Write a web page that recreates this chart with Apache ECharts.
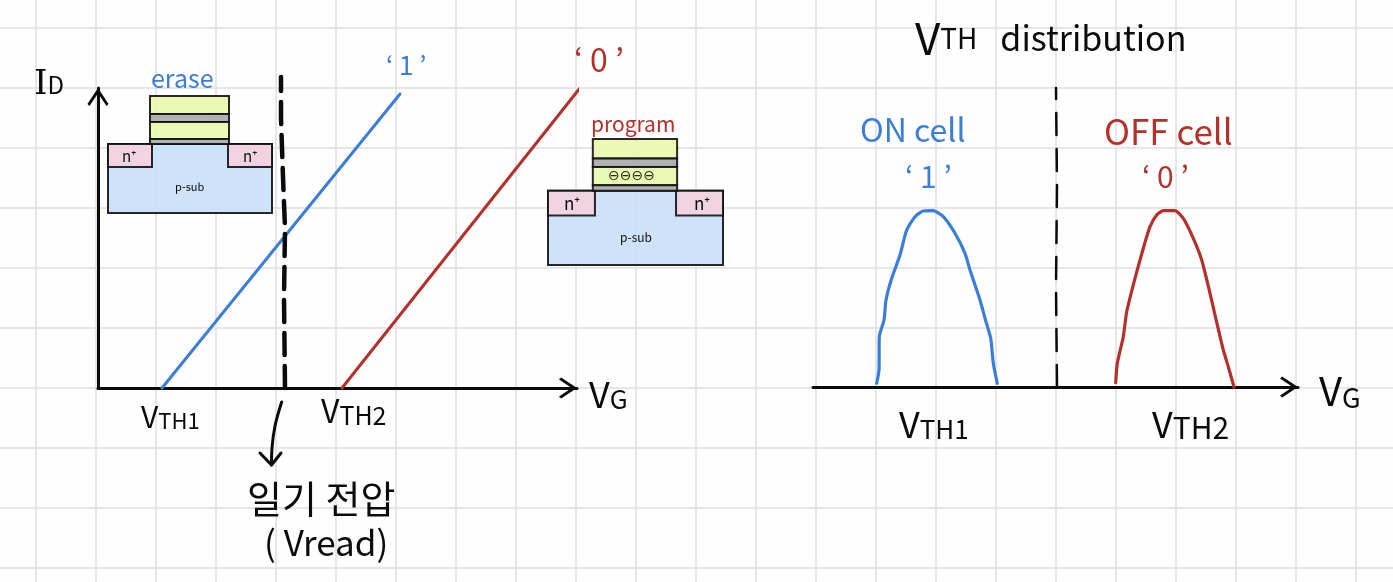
<!DOCTYPE html>
<html><head><meta charset="utf-8">
<style>html,body{margin:0;padding:0;background:#fff}#c{width:1393px;height:582px}</style>
<script src="https://cdn.jsdelivr.net/npm/echarts@6/dist/echarts.min.js"></script>
</head><body><div id="c"></div>
<script>
// ---- data (V_G, I_D) ----
const line1 = [[64,0],[302,294]];
const line0 = [[244,0],[482,300]];
const vreadLine = [[187,0],[186,90],[187,160],[185,211],[183,270],[183,311]];
const vreadShaft = [[183.7,-14],[177,-38],[174,-60],[173.5,-77]];
const vreadHead = [[162,-65],[173.5,-77],[183,-65]];
// ---- distribution curves (V_G, cell count) ----
const dist1 = [[63.7,3.7],[66,17],[66.3,50.3],[71,67],[73,87],[78.7,108.7],[87,132],[93.7,157],[102,170.3],[110.3,176],[120.3,176.3],[130.3,170.3],[142,153.7],[152,133.7],[157,117],[167,87],[172,68.7],[177.7,48.7],[180.3,23.7],[184.3,3.7]];
const dist0 = [[302.7,4.3],[304.3,23.7],[310.3,50.3],[313.7,75.3],[322,108.7],[330.3,138.7],[337,160.3],[343.7,172],[350.3,176.3],[362,176.3],[370.3,168.7],[380.3,148.7],[388.7,127],[397,93.7],[402,72],[410.3,37],[415.3,20.3],[421,0]];
const distSplit = [[244,0],[243,100],[244,200],[243,299]];
// ---- transistor cross-section layers: [x0,y0,x1,y1,kind] ----
const deviceLayers = [
  [0,48,164,117,'sub'],[0,48,44,71,'n'],[120,48,164,71,'n'],
  [42,0,121,18,'poly'],[42,18,121,26,'oxide'],[42,26,121,43,'poly'],[42,43,121,48,'oxide']
];
const axisMaxLeft = [479,300], axisMaxRight = [485,187];
const BLUE='#3B7DD8', RED='#B3302B', INK='#0b0b0b';
const layerColors = {sub:'#C9E0FA',n:'#F6D0DE',poly:'#E9F8AC',oxide:'#A9A9A9'};
const HAND='"Noto Sans CJK KR","Noto Sans",sans-serif';

function layerSeries(idx){
  return {type:'custom',xAxisIndex:idx,yAxisIndex:idx,coordinateSystem:'cartesian2d',z:3,silent:true,
    encode:{x:[0,2],y:[1,3]},data:deviceLayers,
    renderItem:function(p,api){
      const a=api.coord([api.value(0),api.value(1)]),b=api.coord([api.value(2),api.value(3)]);
      return {type:'rect',shape:{x:a[0],y:a[1],width:b[0]-a[0],height:b[1]-a[1]},
        style:{fill:layerColors[deviceLayers[p.dataIndex][4]],stroke:'#111',lineWidth:2,opacity:0.9}};
    }};
}
function curve(idx,data,color,w,extra){
  return Object.assign({type:'line',xAxisIndex:idx,yAxisIndex:idx,data:data,showSymbol:false,symbol:'none',clip:false,z:4,silent:true,
    connectNulls:false,lineStyle:{color:color,width:w,cap:'round',join:'round'}},extra||{});
}
const hidden={show:false};
const chev='path://M10 0 L20 15 L18 17 L10 5 L2 17 L0 15 Z';
function t(text,x,y,size,color,opts){
  return {type:'text',x:x,y:y,z:10,silent:true,style:Object.assign({text:text,fill:color||INK,font:'400 '+size+'px '+HAND,align:'left',verticalAlign:'middle'},opts||{})};
}
function vth(sub,x,y,v,s){
  return t('{v|V}{s|'+sub+'}',x,y,v,INK,{rich:{v:{fontSize:v,fontFamily:HAND,fontWeight:400,fill:INK},s:{fontSize:s,fontFamily:HAND,fontWeight:400,fill:INK,verticalAlign:'bottom',padding:[8,0,0,0]}}});
}
const annotations=[
  vth('TH1',141,417,30,22), vth('TH2',321,411,32,25),
  vth('TH1',899,424,36,26), vth('TH2',1152,424,36,30),
  vth('G',589,394,36,26), vth('G',1319,391,40,27),
  t('{a|I}{b|D}',34,85,30,INK,{rich:{a:{fontSize:34,fontFamily:'"DejaVu Serif"',fill:INK},b:{fontSize:24,fontFamily:HAND,fontWeight:400,fill:INK}}}),
  t("‘ 1 ’",386,65,26,BLUE),
  t("‘ 0 ’",574,60,32,RED),
  t('erase',151,78,25,BLUE),
  t('program',591,124,21,RED),
  t('n⁺',122,156,15,INK), t('n⁺',243,156,15,INK),
  t('n⁺',564,204,17,INK), t('n⁺',694,204,17,INK),
  t('p-sub',175,187,11,INK), t('p-sub',620,237,12,INK),
  t('⊖⊖⊖⊖',608,176,14,'#1d2a10',{font:'14px "DejaVu Sans"'}),
  t('일기 전압',247,499,38,INK),
  t('( Vread)',264,543,35,INK),
  t('{v|V}{s|TH}{d|   distribution}',915,38,36,INK,{rich:{v:{fontSize:44,fontFamily:HAND,fontWeight:400,fill:INK},s:{fontSize:28,fontFamily:HAND,fontWeight:400,fill:INK},d:{fontSize:34,fontFamily:HAND,fontWeight:400,fill:INK}}}),
  t('ON cell',860,130,32,BLUE),
  t("‘ 1 ’",905,177,30,BLUE),
  t('OFF cell',1104,132,35,RED),
  t("‘ 0 ’",1142,177,30,RED)
];
const chart=echarts.init(document.getElementById('c'),null,{renderer:'canvas'});
chart.setOption({
  backgroundColor:'#FEFEFE',animation:false,
  grid:[
    {left:-24,top:-32,width:1440,height:660,outerBoundsMode:'none'},
    {left:98,top:88,width:axisMaxLeft[0],height:axisMaxLeft[1],outerBoundsMode:'none'},
    {left:813,top:200,width:axisMaxRight[0],height:axisMaxRight[1],outerBoundsMode:'none'},
    {left:108,top:96,width:164,height:117,outerBoundsMode:'none'},
    {left:548,top:139,width:175,height:126,outerBoundsMode:'none'}
  ],
  xAxis:[
    {gridIndex:0,type:'value',min:0,max:24,interval:1,axisLine:hidden,axisTick:hidden,axisLabel:hidden,splitLine:{show:true,lineStyle:{color:'#E6E6E6',width:2}}},
    {gridIndex:1,type:'value',min:0,max:axisMaxLeft[0],axisTick:hidden,axisLabel:hidden,splitLine:hidden,axisLine:{show:true,symbol:['none',chev],symbolSize:[30,18],symbolOffset:[0,-9],lineStyle:{color:INK,width:3}}},
    {gridIndex:2,type:'value',min:0,max:axisMaxRight[0],axisTick:hidden,axisLabel:hidden,splitLine:hidden,axisLine:{show:true,symbol:['none',chev],symbolSize:[26,18],symbolOffset:[0,-9],lineStyle:{color:INK,width:3}}},
    {gridIndex:3,type:'value',min:0,max:164,show:false},
    {gridIndex:4,type:'value',min:0,max:164,show:false}
  ],
  yAxis:[
    {gridIndex:0,type:'value',min:0,max:11,interval:1,axisLine:hidden,axisTick:hidden,axisLabel:hidden,splitLine:{show:true,lineStyle:{color:'#E6E6E6',width:2}}},
    {gridIndex:1,type:'value',min:0,max:axisMaxLeft[1],axisTick:hidden,axisLabel:hidden,splitLine:hidden,axisLine:{show:true,onZero:false,symbol:['none',chev],symbolSize:[30,18],symbolOffset:[0,-9],lineStyle:{color:INK,width:3}}},
    {gridIndex:2,type:'value',min:0,max:axisMaxRight[1],show:false},
    {gridIndex:3,type:'value',min:0,max:117,inverse:true,show:false},
    {gridIndex:4,type:'value',min:0,max:117,inverse:true,show:false}
  ],
  series:[
    layerSeries(3),layerSeries(4),
    curve(1,line1,BLUE,3),curve(1,line0,RED,3),
    curve(1,vreadLine,INK,4.5,{lineStyle:{color:INK,width:4.5,type:[22,11],cap:'round'}}),
    curve(1,vreadShaft,INK,3,{smooth:0.4}),curve(1,vreadHead,INK,3),
    curve(2,dist1,BLUE,3.2,{smooth:0.2}),curve(2,dist0,RED,3.2,{smooth:0.2}),
    curve(2,distSplit,INK,2.5,{lineStyle:{color:INK,width:2.5,type:[22,14],cap:'round'}})
  ],
  graphic:annotations
});
</script></body></html>
